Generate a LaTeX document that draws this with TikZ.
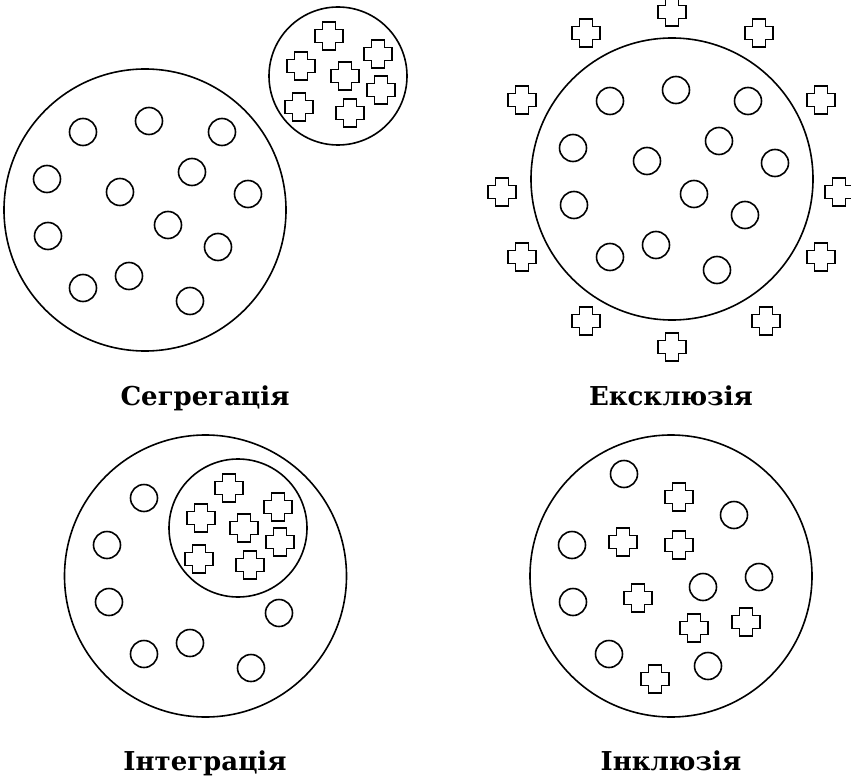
\documentclass[tikz,border=0pt]{standalone}
\usepackage{fontspec}
\setmainfont{Liberation Serif}
\newfontfamily\lblfont{DejaVu Serif}
\begin{document}
\begin{tikzpicture}[x=1pt, y=-1pt, line width=1.6pt,
    big/.style={circle, draw, minimum size=282pt, inner sep=0pt},
    group/.style={circle, draw, minimum size=138pt, inner sep=0pt},
    dot/.style={circle, draw, minimum size=27pt, inner sep=0pt},
    lbl/.style={font=\lblfont\fontsize{26}{31}\selectfont\bfseries, anchor=base, inner sep=0pt},
    plus/.pic={\draw (-6.5,-14) -- (6.5,-14) -- (6.5,-6.5) -- (14,-6.5) -- (14,6.5)
        -- (6.5,6.5) -- (6.5,14) -- (-6.5,14) -- (-6.5,6.5) -- (-14,6.5)
        -- (-14,-6.5) -- (-6.5,-6.5) -- cycle;}]

    \useasboundingbox (0,0) rectangle (851,781);

    % Сегрегація
    \node[big] (segbig) at (145,210) {};
    \node[group] (seggrp) at (338,76) {};
    \foreach \x/\y [count=\i] in {83/132, 149/121, 222/132, 47/179, 120/192, 192/172, 248/194,
        48/236, 168/225, 218/247, 83/288, 129/276, 190/301}
        \node[dot] (sd\i) at (\x,\y) {};
    \foreach \x/\y [count=\i] in {329/36, 301/66, 378/54, 345/76, 381/90, 299/107, 350/113}
        \pic (sp\i) at (\x,\y) {plus};
    \node[lbl] (seglbl) at (205,405) {Сегрегація};

    % Ексклюзія
    \node[big] (excbig) at (672,179) {};
    \foreach \x/\y [count=\i] in {610/101, 676/90, 748/101, 573/148, 647/161, 719/141, 775/163,
        574/205, 694/194, 745/215, 610/257, 656/245, 717/270}
        \node[dot] (ed\i) at (\x,\y) {};
    \foreach \x/\y [count=\i] in {672/12, 586/33, 759/33, 522/100, 821/100, 502/192, 839/192,
        522/257, 821/257, 586/321, 766/321, 672/347}
        \pic (ep\i) at (\x,\y) {plus};
    \node[lbl] (exclbl) at (671,405) {Ексклюзія};

    % Інтеграція
    \node[big] (intbig) at (205.5,576) {};
    \node[group] (intgrp) at (238,528) {};
    \foreach \x/\y [count=\i] in {144/498, 107/545, 109/602, 279/613, 144/654, 190/643, 251/668}
        \node[dot] (id\i) at (\x,\y) {};
    \foreach \x/\y [count=\i] in {229/488, 201/518, 278/507, 244/528, 280/542, 199/559, 250/565}
        \pic (ip\i) at (\x,\y) {plus};
    \node[lbl] (intlbl) at (205,770) {Інтеграція};

    % Інклюзія
    \node[big] (incbig) at (671,576) {};
    \foreach \x/\y [count=\i] in {624/474, 734/515, 572/545, 573/602, 703/587, 759/577,
        609/654, 708/666}
        \node[dot] (nd\i) at (\x,\y) {};
    \foreach \x/\y [count=\i] in {679/497, 623/542, 679/545, 638/598, 694/628, 746/622, 655/679}
        \pic (np\i) at (\x,\y) {plus};
    \node[lbl] (inclbl) at (671,770) {Інклюзія};

\end{tikzpicture}
\end{document}
